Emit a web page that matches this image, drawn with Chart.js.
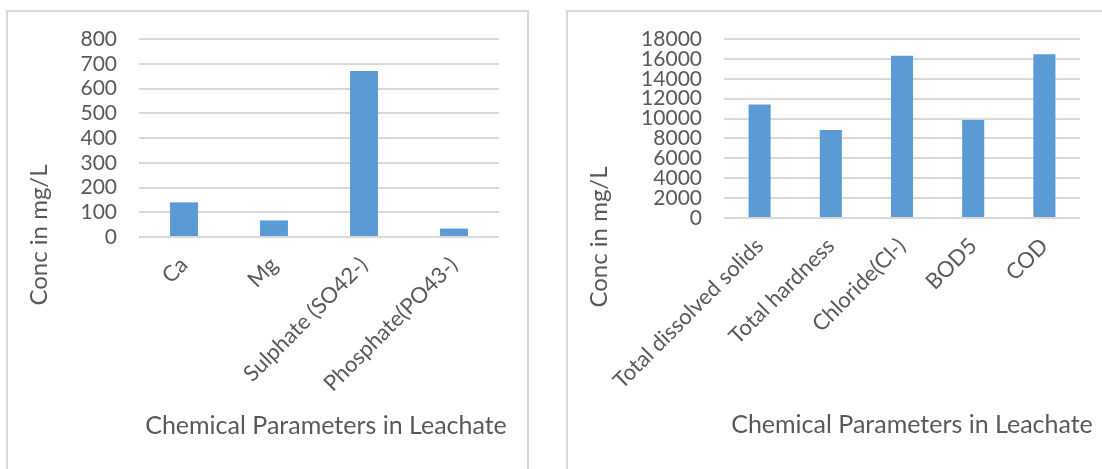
<!DOCTYPE html>
<html>
<head>
<meta charset="utf-8">
<script src="https://cdn.jsdelivr.net/npm/chart.js@4.4.1/dist/chart.umd.min.js"></script>
<style>
  html, body { margin: 0; padding: 0; background: #fff; width: 1102px; height: 469px; overflow: hidden; }
  .panel { position: absolute; border: 2px solid #D9D9D9; box-sizing: border-box; background: #fff; }
  #p1 { left: 6px; top: 10px; width: 523px; height: 480px; }
  #p2 { left: 566px; top: 10px; width: 560px; height: 480px; }
  canvas { position: absolute; }
</style>
</head>
<body>
<div class="panel" id="p1"></div>
<div class="panel" id="p2"></div>
<canvas id="c1" width="518" height="457" style="left:8px;top:12px"></canvas>
<canvas id="c2" width="533" height="457" style="left:569px;top:12px"></canvas>
<script>
// Major ions (mg/L)
const ionLabels = ['Ca', 'Mg', 'Sulphate (SO42-)', 'Phosphate(PO43-)'];
const ionValues = [140, 67, 671, 34];
const ionAxisMax = 800;
const ionAxisStep = 100;

// Bulk parameters (mg/L)
const bulkLabels = ['Total dissolved solids', 'Total hardness', 'Chloride(Cl-)', 'BOD5', 'COD'];
const bulkValues = [11420, 8860, 16320, 9860, 16470];
const bulkAxisMax = 18000;
const bulkAxisStep = 2000;

const yTitle = 'Conc in mg/L';
const xTitle = 'Chemical Parameters in Leachate';

const TEXT = '#595959';
const GRID = '#D9D9D9';
const BAR = '#5B9BD5';

// Draws the axis captions at fixed spots inside the canvas
const captionPlugin = {
  id: 'captions',
  afterDraw(chart, args, o) {
    const ctx = chart.ctx;
    ctx.save();
    ctx.fillStyle = TEXT;
    ctx.textAlign = 'center';
    ctx.textBaseline = 'alphabetic';
    ctx.font = o.xFont;
    ctx.fillText(o.xText, o.xAt[0], o.xAt[1]);
    ctx.font = o.yFont;
    ctx.translate(o.yAt[0], o.yAt[1]);
    ctx.rotate(-Math.PI / 2);
    ctx.fillText(o.yText, 0, 0);
    ctx.restore();
  }
};

function makeChart(id, labels, values, max, step, g) {
  const canvas = document.getElementById(id);
  const W = canvas.width, H = canvas.height;
  return new Chart(canvas, {
    type: 'bar',
    data: {
      labels: labels,
      datasets: [{
        data: values,
        backgroundColor: BAR,
        borderWidth: 0,
        barPercentage: 0.31,
        categoryPercentage: 1
      }]
    },
    options: {
      responsive: false,
      animation: false,
      devicePixelRatio: 1,
      layout: { padding: { top: g.top, right: W - g.right, left: 0, bottom: 0 } },
      plugins: {
        legend: { display: false },
        tooltip: { enabled: false },
        captions: {
          xFont: '25px Lato', yFont: '24px Lato',
          xText: xTitle, xAt: g.xAt,
          yText: yTitle, yAt: g.yAt
        }
      },
      scales: {
        x: {
          grid: { display: false, drawTicks: false },
          border: { display: false },
          ticks: {
            color: TEXT,
            font: { family: 'Lato', size: 22 },
            minRotation: 45, maxRotation: 45,
            autoSkip: false,
            padding: 15
          },
          afterFit(s) { s.height = H - g.bottom; }
        },
        y: {
          min: 0, max: max,
          grid: { color: GRID, lineWidth: 2, drawTicks: false },
          border: { display: false },
          ticks: {
            stepSize: step,
            autoSkip: false,
            color: TEXT,
            font: { family: 'Lato', size: 21, lineHeight: 1 },
            padding: 22,
            callback: (v) => String(v)
          },
          afterFit(s) {
            s.width = g.left;
            s.paddingTop = 10;
            s.paddingBottom = 10;
          }
        }
      }
    },
    plugins: [captionPlugin]
  });
}

function drawAll() {
  makeChart('c1', ionLabels, ionValues, ionAxisMax, ionAxisStep,
    { left: 131, right: 491, top: 27, bottom: 225, xAt: [318, 422], yAt: [39, 223] });
  makeChart('c2', bulkLabels, bulkValues, bulkAxisMax, bulkAxisStep,
    { left: 155, right: 511, top: 27, bottom: 206, xAt: [343, 421], yAt: [38, 225] });
}

if (document.fonts && document.fonts.load) {
  Promise.all([document.fonts.load('21px Lato'), document.fonts.load('25px Lato')]).then(drawAll, drawAll);
} else {
  drawAll();
}
</script>
</body>
</html>
